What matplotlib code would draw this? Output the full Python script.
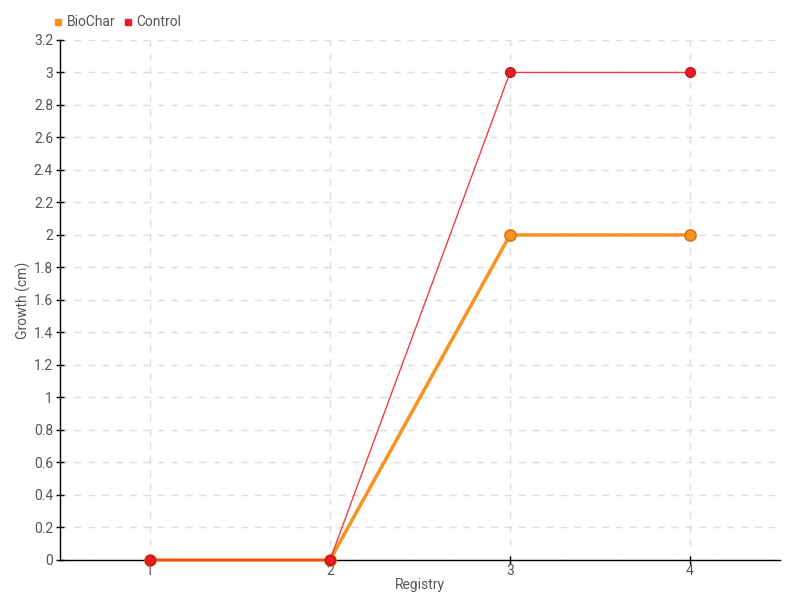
import matplotlib
matplotlib.use("Agg")
import matplotlib.pyplot as plt
from matplotlib.lines import Line2D

plt.rcParams['font.family'] = ['Roboto', 'DejaVu Sans']

registry = [1, 2, 3, 4]
biochar = [0, 0, 2, 2]
control = [0, 0, 3, 3]
yticks = [0, 0.2, 0.4, 0.6, 0.8, 1, 1.2, 1.4, 1.6, 1.8, 2, 2.2, 2.4, 2.6, 2.8, 3, 3.2]

orange = '#f7931e'
red = '#ed1c24'
txt = '#555555'

fig = plt.figure(figsize=(8, 6), dpi=100)
ax = fig.add_axes([0.075, 0.0667, 0.9, 0.8667])

ax.plot(registry, biochar, color=orange, lw=2.5, marker='o', ms=8,
        mfc=orange, mec='#d2761a', mew=1.2, zorder=3, clip_on=False)
ax.plot(registry, control, color=red, lw=1, alpha=0.85, zorder=4, clip_on=False)
ax.plot(registry, control, ls='none', marker='o', ms=7,
        mfc=red, mec='#c8101c', mew=1, zorder=5, clip_on=False)

ax.set_xlim(0.5, 4.5)
ax.set_ylim(0, 3.2)
ax.set_xticks(registry)
ax.set_yticks(yticks)
ax.set_yticklabels([('%g' % v) for v in yticks])

ax.grid(True, color='#dddddd', ls=(0, (5, 5)), lw=1)
ax.set_axisbelow(True)
for s in ['top', 'right']:
    ax.spines[s].set_visible(False)
for s in ['left', 'bottom']:
    ax.spines[s].set_color('black')
    ax.spines[s].set_linewidth(1)
ax.tick_params(direction='inout', length=6, width=1, colors='black',
               labelcolor=txt, labelsize=10, pad=2)
ax.tick_params(axis='x', pad=0)

ax.set_xlabel('Registry', color=txt, fontsize=10, labelpad=0)
ax.set_ylabel('Growth (cm)', color=txt, fontsize=10)
ax.yaxis.set_label_coords(-0.040, 0.5)

handles = [Line2D([], [], ls='none', marker='s', ms=5, color=orange),
           Line2D([], [], ls='none', marker='s', ms=5, color=red)]
leg = fig.legend(handles, ['BioChar', 'Control'], loc='upper left',
                 bbox_to_anchor=(0.052, 0.995), ncol=2, frameon=False,
                 handlelength=0.6, handletextpad=0.3, columnspacing=0.6,
                 fontsize=10, labelcolor=txt)

fig.savefig('out.png', dpi=100)
